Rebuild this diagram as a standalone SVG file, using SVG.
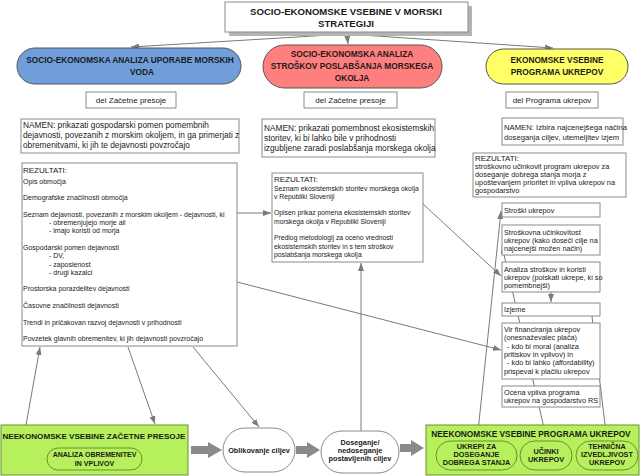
<svg xmlns="http://www.w3.org/2000/svg" width="640" height="476" viewBox="0 0 640 476">
<defs>
<marker id="ah" markerUnits="userSpaceOnUse" markerWidth="8" markerHeight="6" viewBox="0 0 8 6" refX="8" refY="3" orient="auto"><path d="M0,0 L8,3 L0,6 z" fill="#7a7a7a"/></marker>
<style>
text{font-family:"Liberation Sans",Arial,sans-serif;fill:#1a1a1a}
.b{font-weight:bold}
.box{fill:#fff;stroke:#8a8a8a;stroke-width:1}
.pill{stroke:#555;stroke-width:1}
.grn{fill:#b6f05c;stroke:#6f8f30;stroke-width:1}
.con{fill:none;stroke:#7a7a7a;stroke-width:1;marker-end:url(#ah)}
.blk{fill:#8a8a8a}
.t7{font-size:7px}
.t73{font-size:7.3px}
.t8{font-size:8px}
.t83{font-size:8.3px}
.c{text-anchor:middle}
</style>
</defs>
<rect width="640" height="476" fill="#fff"/>

<g id="connectors">
<path class="con" d="M347,34 L131,47"/>
<path class="con" d="M347,34 L348,44"/>
<path class="con" d="M347,34 L553,48"/>
<path class="con" d="M237,213 L271,213"/>
<path class="con" d="M237,282 L501,350"/>
<path class="con" d="M423,204 L501,276"/>
<path class="con" d="M361,431 L361,263"/>
<path class="con" d="M26,425 L40,347"/>
<path class="con" d="M128,347 L155,424"/>
<path class="con" d="M193,347 L259,427"/>
<path class="con" d="M477,441 L501,211"/>
<path class="con" d="M547,441 L502,246"/>
<path class="con" d="M607,441 L591,308"/>
<path class="con" d="M551,292 L551,302"/>
<polygon class="blk" points="191,446 208,446 208,442 222,450 208,458 208,454 191,454"/>
<polygon class="blk" points="296,446 307,446 307,442 320,450 307,458 307,454 296,454"/>
<polygon class="blk" points="400,444 411,444 411,440 424,448 411,456 411,452 400,452"/>
</g>

<g id="title">
<rect x="229" y="6" width="243" height="30" fill="#b4b4b4"/>
<rect x="225" y="2" width="243" height="30" class="box"/>
<text x="346" y="14.5" class="b c" font-size="9.6">SOCIO-EKONOMSKE VSEBINE V MORSKI</text>
<text x="346" y="27" class="b c" font-size="9.6">STRATEGIJI</text>
</g>

<g id="pill-blue">
<rect x="17" y="48" width="224" height="36" rx="18" class="pill" fill="#6f9edb"/>
<text x="130" y="63" class="b c t83">SOCIO-EKONOMSKA ANALIZA UPORABE MORSKIH</text>
<text x="142" y="75" class="b c t83">VODA</text>
</g>

<g id="pill-red">
<rect x="263" y="45" width="179" height="43" rx="21.5" class="pill" fill="#ff7f7f"/>
<text x="352" y="57" class="b c t83">SOCIO-EKONOMSKA ANALIZA</text>
<text x="352" y="69" class="b c t83">STROŠKOV POSLABŠANJA MORSKEGA</text>
<text x="352" y="81" class="b c t83">OKOLJA</text>
</g>

<g id="pill-yellow">
<rect x="486" y="49" width="142" height="35" rx="17.5" class="pill" fill="#ffff66"/>
<text x="557" y="63" class="b c t83">EKONOMSKE VSEBINE</text>
<text x="557" y="75" class="b c t83">PROGRAMA UKREPOV</text>
</g>

<g id="del-left">
<rect x="86" y="92" width="90" height="16" class="box"/>
<text x="131" y="103" class="c t8">del Začetne presoje</text>
</g>
<g id="del-mid">
<rect x="304" y="92" width="93" height="16" class="box"/>
<text x="350.5" y="103" class="c t8">del Začetne presoje</text>
</g>
<g id="del-right">
<rect x="506" y="92" width="92" height="16" class="box"/>
<text x="552" y="103" class="c t8">del Programa ukrepov</text>
</g>

<g id="namen-left">
<rect x="21" y="119" width="218" height="34" class="box"/>
<text class="t83"><tspan x="23" y="128">NAMEN: prikazati gospodarski pomen pomembnih</tspan><tspan x="23" y="138">dejavnosti, povezanih z morskim okoljem, in ga primerjati z</tspan><tspan x="23" y="148">obremenitvami, ki jih te dejavnosti povzročajo</tspan></text>
</g>
<g id="namen-mid">
<rect x="262" y="119" width="173" height="38" class="box"/>
<text class="t83"><tspan x="264" y="131">NAMEN: prikazati pomembnost ekosistemskih</tspan><tspan x="264" y="141">storitev, ki bi lahko bile v prihodnosti</tspan><tspan x="264" y="151">izgubljene zaradi poslabšanja morskega okolja</tspan></text>
</g>
<g id="namen-right">
<rect x="502" y="118" width="121" height="27" class="box"/>
<text font-size="7.7"><tspan x="504" y="130">NAMEN: Izbira najcenejšega načina</tspan><tspan x="504" y="140">doseganja ciljev, utemeljitev izjem</tspan></text>
</g>

<g id="rez-left">
<rect x="22" y="163" width="215" height="183" class="box"/>
<text x="23" y="173" class="t8">REZULTATI:</text>
<text class="t7"><tspan x="23" y="183.5">Opis območja</tspan><tspan x="23" y="200">Demografske značilnosti območja</tspan><tspan x="23" y="216.5">Seznam dejavnosti, povezanih z morskim okoljem - dejavnosti, ki</tspan><tspan x="49" y="225">- obremenjujejo morje ali</tspan><tspan x="49" y="233.3">- imajo koristi od morja</tspan><tspan x="23" y="249.9">Gospodarski pomen dejavnosti</tspan><tspan x="49" y="258.2">- DV,</tspan><tspan x="49" y="266.5">- zaposlenost</tspan><tspan x="49" y="274.8">- drugi kazalci</tspan><tspan x="23" y="291.4">Prostorska porazdelitev dejavnosti</tspan><tspan x="23" y="308">Časovne značilnosti dejavnosti</tspan><tspan x="23" y="324.6">Trendi in pričakovan razvoj dejavnosti v prihodnosti</tspan><tspan x="23" y="341.2">Povzetek glavnih obremenitev, ki jih dejavnosti povzročajo</tspan></text>
</g>

<g id="rez-mid">
<rect x="272" y="173" width="151" height="89" class="box"/>
<text x="274" y="182" class="t8">REZULTATI:</text>
<text font-size="6.8"><tspan x="274" y="190.5">Seznam ekosistemskih storitev morskega okolja</tspan><tspan x="274" y="198.8">v Republiki Sloveniji</tspan><tspan x="274" y="215.4">Opisen prikaz pomena ekosistemskih storitev</tspan><tspan x="274" y="223.7">morskega okolja v Republiki Sloveniji</tspan><tspan x="274" y="240.3">Predlog metodologij za oceno vrednosti</tspan><tspan x="274" y="248.6">ekosistemskih storitev in s tem stroškov</tspan><tspan x="274" y="256.9">poslabšanja morskega okolja</tspan></text>
</g>

<g id="rez-right">
<rect x="473" y="153" width="153" height="44" class="box"/>
<text x="475" y="161" class="t8">REZULTATI:</text>
<text font-size="7.4"><tspan x="475" y="169">stroškovno učinkovit program ukrepov za</tspan><tspan x="475" y="177">doseganje dobrega stanja morja z</tspan><tspan x="475" y="185">upoštevanjem prioritet in vpliva ukrepov na</tspan><tspan x="475" y="193">gospodarstvo</tspan></text>
</g>

<g id="stroski">
<rect x="502" y="203" width="98" height="14" class="box"/>
<text x="504" y="212.5" class="t73">Stroški ukrepov</text>
</g>
<g id="ucinkovitost">
<rect x="502" y="225" width="98" height="30" class="box"/>
<text class="t73"><tspan x="504" y="235">Stroškovna učinkovitost</tspan><tspan x="504" y="243">ukrepov (kako doseči cilje na</tspan><tspan x="504" y="251">najcenejši možen način)</tspan></text>
</g>
<g id="analiza">
<rect x="502" y="262" width="98" height="30" class="box"/>
<text class="t73"><tspan x="504" y="272">Analiza stroškov in koristi</tspan><tspan x="504" y="280">ukrepov (poiskati ukrepe, ki so</tspan><tspan x="504" y="288">pomembnejši)</tspan></text>
</g>
<g id="izjeme">
<rect x="502" y="303" width="98" height="13" class="box"/>
<text x="504" y="312" class="t73">Izjeme</text>
</g>
<g id="vir">
<rect x="502" y="323" width="98" height="56" class="box"/>
<text class="t73"><tspan x="504" y="332">Vir financiranja ukrepov</tspan><tspan x="504" y="340.3">(onesnaževalec plača)</tspan><tspan x="505" y="348.6"> - kdo bi moral (analiza</tspan><tspan x="504" y="356.9">pritiskov in vplivov) in</tspan><tspan x="505" y="365.2"> - kdo bi lahko (affordability)</tspan><tspan x="504" y="373.5">prispeval k plačilu ukrepov</tspan></text>
</g>
<g id="ocena">
<rect x="502" y="386" width="98" height="21" class="box"/>
<text class="t73"><tspan x="504" y="394.5">Ocena vpliva programa</tspan><tspan x="504" y="402.5">ukrepov na gospodarstvo RS</tspan></text>
</g>

<g id="green-left">
<rect x="1" y="425" width="187" height="50" class="grn"/>
<text x="94" y="438.5" class="b c" font-size="8.1">NEEKONOMSKE VSEBINE ZAČETNE PRESOJE</text>
<rect x="47" y="448" width="95" height="22" rx="11" class="grn"/>
<text x="94.5" y="456.5" class="b c t7">ANALIZA OBREMENITEV</text>
<text x="94.5" y="465.5" class="b c t7">IN VPLIVOV</text>
</g>

<g id="oblikovanje">
<rect x="223" y="428" width="72" height="44" rx="22" class="box" stroke="#666"/>
<text x="259" y="452.5" class="b c t73">Oblikovanje ciljev</text>
</g>

<g id="doseganje">
<rect x="321" y="431" width="78" height="42" rx="21" class="box" stroke="#666"/>
<text x="360" y="444.5" class="b c t73">Doseganje/</text>
<text x="360" y="452.5" class="b c t73">nedoseganje</text>
<text x="360" y="460.5" class="b c t73">postavljenih ciljev</text>
</g>

<g id="green-right">
<rect x="426" y="425" width="213" height="50" class="grn"/>
<text x="531" y="437" class="b c t83">NEEKONOMSKE VSEBINE PROGRAMA UKREPOV</text>
<rect x="436" y="441" width="81" height="29" rx="14.5" class="grn"/>
<text x="476.5" y="448.5" class="b c t73">UKREPI ZA</text>
<text x="476.5" y="456.5" class="b c t73">DOSEGANJE</text>
<text x="476.5" y="464.8" class="b c t73">DOBREGA STANJA</text>
<rect x="520" y="441" width="52" height="29" rx="14.5" class="grn"/>
<text x="546" y="453.5" class="b c t73">UČINKI</text>
<text x="546" y="461.5" class="b c t73">UKREPOV</text>
<rect x="576" y="441" width="62" height="29" rx="14.5" class="grn"/>
<text x="607" y="448.5" class="b c t73">TEHNIČNA</text>
<text x="607" y="456.5" class="b c t73">IZVEDLJIVOST</text>
<text x="607" y="464.8" class="b c t73">UKREPOV</text>
</g>
</svg>
